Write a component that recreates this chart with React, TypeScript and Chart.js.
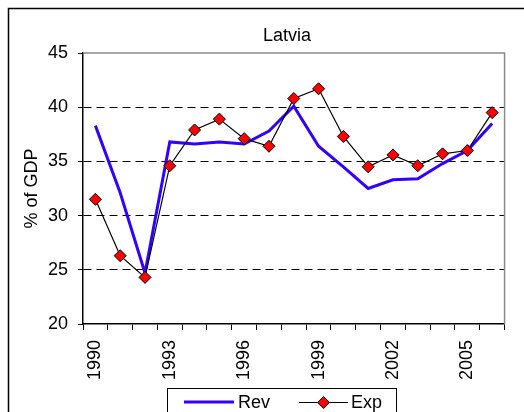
import React, { useEffect, useRef } from "react";
import { Chart, registerables } from "chart.js";

Chart.register(...registerables);

const title = "Latvia";
const yAxisTitle = "% of GDP";
const years = ["1990","1991","1992","1993","1994","1995","1996","1997","1998","1999","2000","2001","2002","2003","2004","2005","2006"];
const shownYearLabels = ["1990","1993","1996","1999","2002","2005"];
const revLabel = "Rev";
const expLabel = "Exp";
const rev = [38.3, 32.1, 24.7, 36.8, 36.6, 36.8, 36.6, 37.8, 40.1, 36.4, 34.5, 32.5, 33.3, 33.4, 34.8, 36.0, 38.5];
const exp = [31.5, 26.3, 24.3, 34.6, 37.9, 38.9, 37.1, 36.4, 40.8, 41.7, 37.3, 34.5, 35.6, 34.6, 35.7, 36.0, 39.5];
const yMin = 20;
const yMax = 45;
const yStep = 5;

const FONT = "'Liberation Sans', Arial, sans-serif";
const REV_COLOR = "#3300FF";
const EXP_MARKER = "#FF0000";

function drawDiamond(ctx: CanvasRenderingContext2D, x: number, y: number, r: number) {
  ctx.beginPath();
  ctx.moveTo(x, y - r);
  ctx.lineTo(x + r, y);
  ctx.lineTo(x, y + r);
  ctx.lineTo(x - r, y);
  ctx.closePath();
  ctx.fillStyle = EXP_MARKER;
  ctx.fill();
  ctx.lineWidth = 1;
  ctx.strokeStyle = "#000";
  ctx.stroke();
}

const decorPlugin = {
  id: "decor",
  beforeDraw(chart: any) {
    const ctx = chart.ctx as CanvasRenderingContext2D;
    ctx.save();
    ctx.fillStyle = "#fff";
    ctx.fillRect(0, 0, chart.width, chart.height);
    ctx.strokeStyle = "#000";
    ctx.lineWidth = 1.5;
    ctx.strokeRect(8.5, 8.5, 700, 600);
    ctx.restore();
  },
  beforeDatasetsDraw(chart: any) {
    const ctx = chart.ctx as CanvasRenderingContext2D;
    const a = chart.chartArea;
    ctx.save();
    ctx.strokeStyle = "#8a8a8a";
    ctx.lineWidth = 1.5;
    ctx.beginPath();
    ctx.moveTo(a.left, a.top);
    ctx.lineTo(a.right, a.top);
    ctx.lineTo(a.right, a.bottom);
    ctx.stroke();
    ctx.restore();
  },
  afterDraw(chart: any) {
    const ctx = chart.ctx as CanvasRenderingContext2D;
    ctx.save();
    ctx.fillStyle = "#000";
    ctx.font = `18px ${FONT}`;
    ctx.textAlign = "center";
    ctx.textBaseline = "alphabetic";
    ctx.fillText(title, 287, 41);

    ctx.strokeStyle = "#000";
    ctx.lineWidth = 1;
    ctx.strokeRect(167.5, 388.5, 229, 60);
    const ly = 402;
    const ds = chart.data.datasets;
    ctx.strokeStyle = REV_COLOR;
    ctx.lineWidth = 3;
    ctx.beginPath();
    ctx.moveTo(184, ly);
    ctx.lineTo(234, ly);
    ctx.stroke();
    ctx.fillStyle = "#000";
    ctx.textAlign = "left";
    ctx.textBaseline = "middle";
    ctx.font = `18px ${FONT}`;
    ctx.fillText(ds[0].label, 238, ly + 1);
    ctx.strokeStyle = "#000";
    ctx.lineWidth = 1.2;
    ctx.beginPath();
    ctx.moveTo(299, ly + 0.5);
    ctx.lineTo(348, ly + 0.5);
    ctx.stroke();
    drawDiamond(ctx, 323.5, ly + 0.5, 6);
    ctx.fillStyle = "#000";
    ctx.fillText(ds[1].label, 351, ly + 1);
    ctx.restore();
  },
};

export default function App() {
  const ref = useRef<HTMLCanvasElement | null>(null);
  useEffect(() => {
    if (!ref.current) return;
    const chart = new Chart(ref.current, {
      type: "line",
      data: {
        labels: years,
        datasets: [
          {
            label: revLabel,
            data: rev,
            borderColor: REV_COLOR,
            borderWidth: 3,
            pointRadius: 0,
            tension: 0,
            fill: false,
            order: 1,
          },
          {
            label: expLabel,
            data: exp,
            borderColor: "#000",
            borderWidth: 1.2,
            pointStyle: "rectRot",
            pointRadius: 6,
            pointBackgroundColor: EXP_MARKER,
            pointBorderColor: "#000",
            pointBorderWidth: 1,
            tension: 0,
            fill: false,
            order: 0,
          },
        ],
      },
      options: {
        animation: false,
        responsive: false,
        devicePixelRatio: 1,
        layout: { padding: { left: 0, top: 53, right: 8, bottom: 0 } },
        plugins: {
          legend: { display: false },
          title: { display: false },
          tooltip: { enabled: false },
        },
        scales: {
          x: {
            type: "category",
            offset: true,
            grid: {
              offset: true,
              drawOnChartArea: false,
              drawTicks: true,
              tickLength: 6,
              tickColor: "#000",
              tickWidth: 1,
            },
            border: { display: true, color: "#000", width: 1.5 },
            ticks: {
              autoSkip: false,
              minRotation: 90,
              maxRotation: 90,
              padding: 10,
              color: "#000",
              font: { family: FONT, size: 18 },
              callback: function (this: any, value: any, index: number) {
                const lab = years[index];
                return shownYearLabels.includes(lab) ? lab : "";
              },
            },
            afterFit: (s: any) => {
              s.height = 88;
            },
          },
          y: {
            type: "linear",
            min: yMin,
            max: yMax,
            ticks: {
              stepSize: yStep,
              padding: 10,
              color: "#000",
              font: { family: FONT, size: 18 },
            },
            grid: {
              color: (c: any) => {
                const v = c.tick ? c.tick.value : null;
                return v !== null && v > yMin && v < yMax ? "#000" : "rgba(0,0,0,0)";
              },
              lineWidth: 1,
              drawTicks: true,
              tickLength: 5,
              tickColor: "#000",
              tickWidth: 1,
              tickBorderDash: [],
            },
            border: { display: true, color: "#000", width: 1.5, dash: [8, 5] },
            title: {
              display: true,
              text: yAxisTitle,
              color: "#000",
              font: { family: FONT, size: 18 },
              padding: { top: 21, bottom: 0 },
            },
            afterFit: (s: any) => {
              s.width = 83;
            },
          },
        },
      },
      plugins: [decorPlugin],
    });
    return () => chart.destroy();
  }, []);
  return (
    <canvas
      ref={ref}
      width={524}
      height={412}
      style={{ position: "absolute", left: 0, top: 0, display: "block", width: 524, height: 412 }}
    />
  );
}
